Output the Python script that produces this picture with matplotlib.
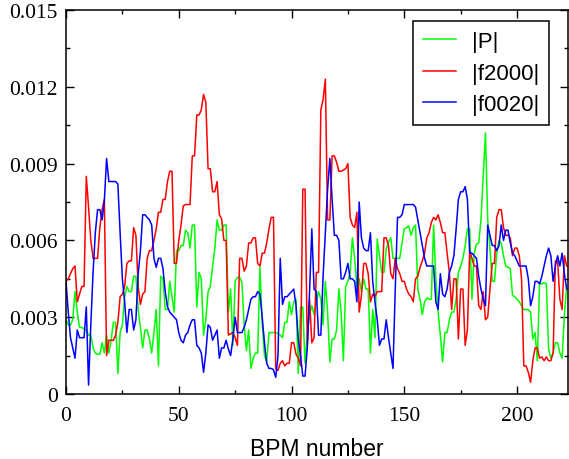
import numpy as np
import matplotlib
matplotlib.use("Agg")
import matplotlib.pyplot as plt
from matplotlib.ticker import MultipleLocator

# values, in units of 1e-3
p_abs = [2.9, 2.7, 2.7, 2.9, 4.0, 3.2, 2.6, 2.6, 2.55, 2.5,
         2.3, 2.3, 1.8, 1.6, 1.55, 1.55, 2.0, 1.6, 2.3, 1.6,
         2.1, 2.8, 2.8, 0.8, 2.4, 2.7, 3.8, 4.2, 4.0, 4.0,
         4.6, 4.6, 3.3, 2.6, 1.8, 2.5, 2.5, 2.15, 1.6, 2.4,
         3.3, 1.1, 4.6, 4.5, 3.3, 3.3, 4.4, 3.8, 3.2, 5.6,
         5.6, 5.8, 5.8, 6.4, 6.3, 5.7, 6.6, 6.6, 3.4, 4.75,
         4.5, 2.3, 2.9, 4.0, 4.2, 5.0, 5.7, 6.8, 6.4, 6.4,
         6.6, 6.6, 3.2, 4.1, 1.9, 4.4, 4.56, 4.56, 4.36, 2.7,
         1.7, 2.5, 1.0, 1.4, 1.6, 1.6, 4.95, 2.8, 1.5, 1.25,
         2.4, 2.4, 2.4, 2.4, 2.35, 2.3, 2.2, 2.8, 2.8, 3.6,
         3.1, 3.6, 3.7, 0.8, 3.4, 3.4, 1.2, 2.3, 3.1, 3.45,
         3.1, 3.6, 4.0, 3.7, 2.7, 4.4, 3.2, 1.25, 2.15, 2.15,
         2.5, 4.1, 3.2, 1.3, 4.2, 4.4, 4.75, 6.1, 5.3, 4.1,
         4.5, 4.0, 4.5, 4.1, 4.1, 1.6, 3.3, 2.2, 6.05, 5.4,
         4.75, 4.75, 5.66, 5.93, 6.1, 5.3, 5.3, 5.3, 5.3, 5.9,
         6.45, 6.5, 6.57, 6.2, 6.5, 6.6, 4.1, 3.7, 3.1, 3.6,
         3.75, 3.7, 3.7, 6.6, 4.5, 3.2, 2.3, 1.25, 2.4, 2.4,
         2.9, 3.2, 3.2, 3.7, 4.75, 5.0, 5.3, 5.8, 6.45, 6.45,
         3.7, 5.5, 5.85, 5.9, 6.8, 8.5, 10.2, 6.8, 5.7, 4.4,
         4.4, 5.5, 6.0, 5.9, 5.4, 5.0, 4.95, 4.9, 3.85, 3.8,
         3.7, 3.6, 3.45, 3.3, 3.3, 3.3, 3.2, 2.15, 2.4, 1.3,
         4.36, 4.3, 4.35, 4.3, 1.76, 1.4, 1.6, 2.0, 2.0, 1.6,
         1.4, 3.1, 4.2]

f2000 = [4.4, 4.5, 4.7, 4.9, 5.0, 3.6, 3.9, 4.2, 4.2, 8.5,
         7.3, 6.0, 5.3, 5.3, 5.3, 6.5, 7.2, 7.6, 1.5, 2.1,
         2.1, 2.1, 2.3, 2.8, 3.8, 3.9, 4.2, 5.1, 5.2, 5.2,
         6.5, 6.2, 4.2, 3.5, 3.9, 4.0, 5.3, 5.6, 5.6, 6.0,
         6.45, 7.1, 7.1, 7.6, 7.6, 8.3, 8.7, 8.7, 5.1, 5.1,
         6.0, 6.6, 7.35, 7.4, 7.4, 7.4, 9.3, 9.3, 10.9, 10.9,
         11.1, 11.7, 11.4, 8.8, 8.8, 7.9, 7.9, 8.3, 7.0, 6.85,
         6.0, 6.0, 2.3, 2.35, 2.4, 2.2, 1.9, 5.3, 5.3, 4.8,
         5.0, 5.9, 5.9, 6.1, 6.1, 5.1, 5.0, 5.5, 5.5, 5.9,
         6.45, 6.9, 6.9, 1.0, 0.92, 1.2, 1.3, 1.1, 1.2, 1.2,
         2.0, 2.0, 1.55, 1.4, 1.1, 8.0, 8.0, 1.9, 3.7, 2.0,
         2.2, 4.75, 4.75, 11.1, 11.5, 12.3, 6.8, 6.8, 9.3, 9.3,
         9.05, 8.7, 8.7, 8.75, 8.8, 9.0, 6.9, 6.6, 6.5, 7.1,
         3.2, 3.85, 5.1, 5.1, 4.7, 3.6, 3.9, 3.8, 4.0, 4.0,
         4.0, 6.1, 6.1, 5.8, 4.7, 4.5, 5.3, 4.9, 4.7, 4.4,
         4.4, 4.1, 3.9, 3.8, 3.6, 4.5, 4.6, 4.95, 5.2, 5.5,
         6.1, 6.3, 6.7, 6.9, 6.8, 7.0, 6.7, 6.3, 6.3, 5.5,
         4.75, 3.3, 4.5, 4.5, 2.15, 4.1, 4.1, 1.9, 2.5, 5.6,
         5.3, 5.0, 5.0, 3.45, 3.3, 4.0, 2.9, 3.0, 4.1, 5.1,
         5.1, 6.9, 7.2, 7.2, 6.5, 6.2, 6.2, 6.1, 5.4, 5.7,
         5.7, 5.4, 4.5, 1.1, 1.1, 0.85, 0.46, 1.3, 1.8, 1.8,
         1.4, 1.45, 1.3, 1.45, 1.3, 1.3, 1.6, 5.2, 5.2, 3.7,
         3.3, 5.4, 5.0]

f0020 = [4.4, 3.2, 2.2, 1.8, 1.4, 2.5, 2.2, 2.2, 2.2, 3.4,
         0.35, 2.7, 4.75, 6.3, 7.2, 7.2, 6.8, 7.55, 9.2, 8.3,
         8.3, 8.3, 8.3, 8.2, 6.3, 4.5, 3.6, 2.4, 3.3, 3.3,
         2.5, 2.9, 4.7, 5.6, 7.0, 7.0, 6.9, 6.8, 6.6, 5.3,
         4.95, 5.3, 5.3, 4.9, 4.0, 3.4, 3.2, 3.1, 3.0, 2.9,
         2.4, 2.1, 2.0, 2.3, 2.4, 2.7, 2.9, 2.9, 1.9, 1.8,
         1.6, 0.85, 1.6, 2.7, 2.6, 2.1, 2.3, 2.5, 1.4, 1.8,
         1.8, 2.1, 1.76, 1.5, 2.15, 3.0, 2.4, 2.4, 2.4, 2.6,
         2.9, 3.3, 3.7, 3.8, 3.8, 4.0, 3.9, 3.0, 2.0, 1.2,
         1.0, 1.0, 0.95, 0.65, 1.5, 5.3, 3.5, 3.8, 3.8, 3.9,
         4.0, 4.1, 3.45, 2.15, 1.5, 0.7, 0.7, 1.8, 4.0, 6.45,
         4.1, 4.0, 2.3, 2.3, 4.6, 6.3, 8.0, 9.2, 7.6, 6.2,
         6.2, 6.0, 4.5, 4.5, 4.75, 5.1, 4.5, 4.5, 4.4, 3.6,
         7.5, 6.1, 5.7, 5.6, 5.6, 6.3, 4.4, 3.6, 2.9, 1.9,
         2.15, 2.15, 2.9, 2.2, 1.6, 1.0, 4.1, 6.9, 6.9, 7.0,
         7.4, 7.4, 7.4, 7.4, 7.4, 7.3, 6.8, 6.3, 5.8, 5.3,
         5.0, 5.0, 5.0, 5.0, 3.6, 3.3, 4.7, 3.9, 3.8, 4.1,
         4.75, 5.0, 5.4, 6.45, 7.6, 7.9, 7.9, 8.1, 7.6, 5.5,
         5.5, 5.4, 5.3, 4.6, 4.1, 3.7, 3.45, 6.6, 6.2, 5.8,
         5.8, 5.6, 5.8, 6.6, 6.0, 6.4, 6.4, 5.9, 5.5, 5.4,
         5.2, 5.0, 5.0, 5.0, 5.0, 4.5, 3.45, 3.8, 4.4, 4.4,
         4.3, 4.6, 5.0, 5.4, 5.7, 5.4, 4.4, 5.0, 5.4, 5.0,
         5.5, 4.7, 4.1]

labels = ["|P|", "|f2000|", "|f0020|"]
colors = ["#00ff00", "#ff0000", "#0000ff"]
ytick_vals = [0, 0.003, 0.006, 0.009, 0.012, 0.015]
ytick_labels = ["0", "0.003", "0.006", "0.009", "0.012", "0.015"]

fig = plt.figure(figsize=(5.69, 4.60), dpi=100)
ax = fig.add_axes([66 / 569, 65 / 460, 502 / 569, 384 / 460])

for series, label, color in zip([p_abs, f2000, f0020], labels, colors):
    y = np.array(series) * 1e-3
    ax.plot(np.arange(len(y)), y, color=color, lw=1.1, label=label)

ax.set_xlim(0, 222.6)
ax.set_ylim(0, 0.015)
ax.xaxis.set_major_locator(MultipleLocator(50))
ax.xaxis.set_minor_locator(MultipleLocator(25))
ax.set_yticks(ytick_vals)
ax.set_yticklabels(ytick_labels)
ax.yaxis.set_minor_locator(MultipleLocator(0.0015))
ax.tick_params(which="both", direction="in", top=True, right=True, width=1.0)
ax.tick_params(which="major", length=6)
ax.tick_params(which="minor", length=3)
ax.tick_params(axis="y", pad=6)
ax.tick_params(axis="x", pad=9)
for lab in ax.get_xticklabels() + ax.get_yticklabels():
    lab.set_fontfamily("Liberation Serif")
    lab.set_fontsize(15.5)
for sp in ax.spines.values():
    sp.set_linewidth(1.1)

ax.set_xlabel("BPM number", fontfamily="Liberation Sans", fontsize=16.5, labelpad=8)

leg = ax.legend(loc="upper right", bbox_to_anchor=(0.962, 0.971), borderaxespad=0,
                prop={"family": "Liberation Sans", "size": 16}, fancybox=False,
                framealpha=1, edgecolor="black", handlelength=1.5, handletextpad=0.7,
                labelspacing=0.47, borderpad=0.45)
leg.get_frame().set_linewidth(1.1)

fig.savefig("out.png", dpi=100)
